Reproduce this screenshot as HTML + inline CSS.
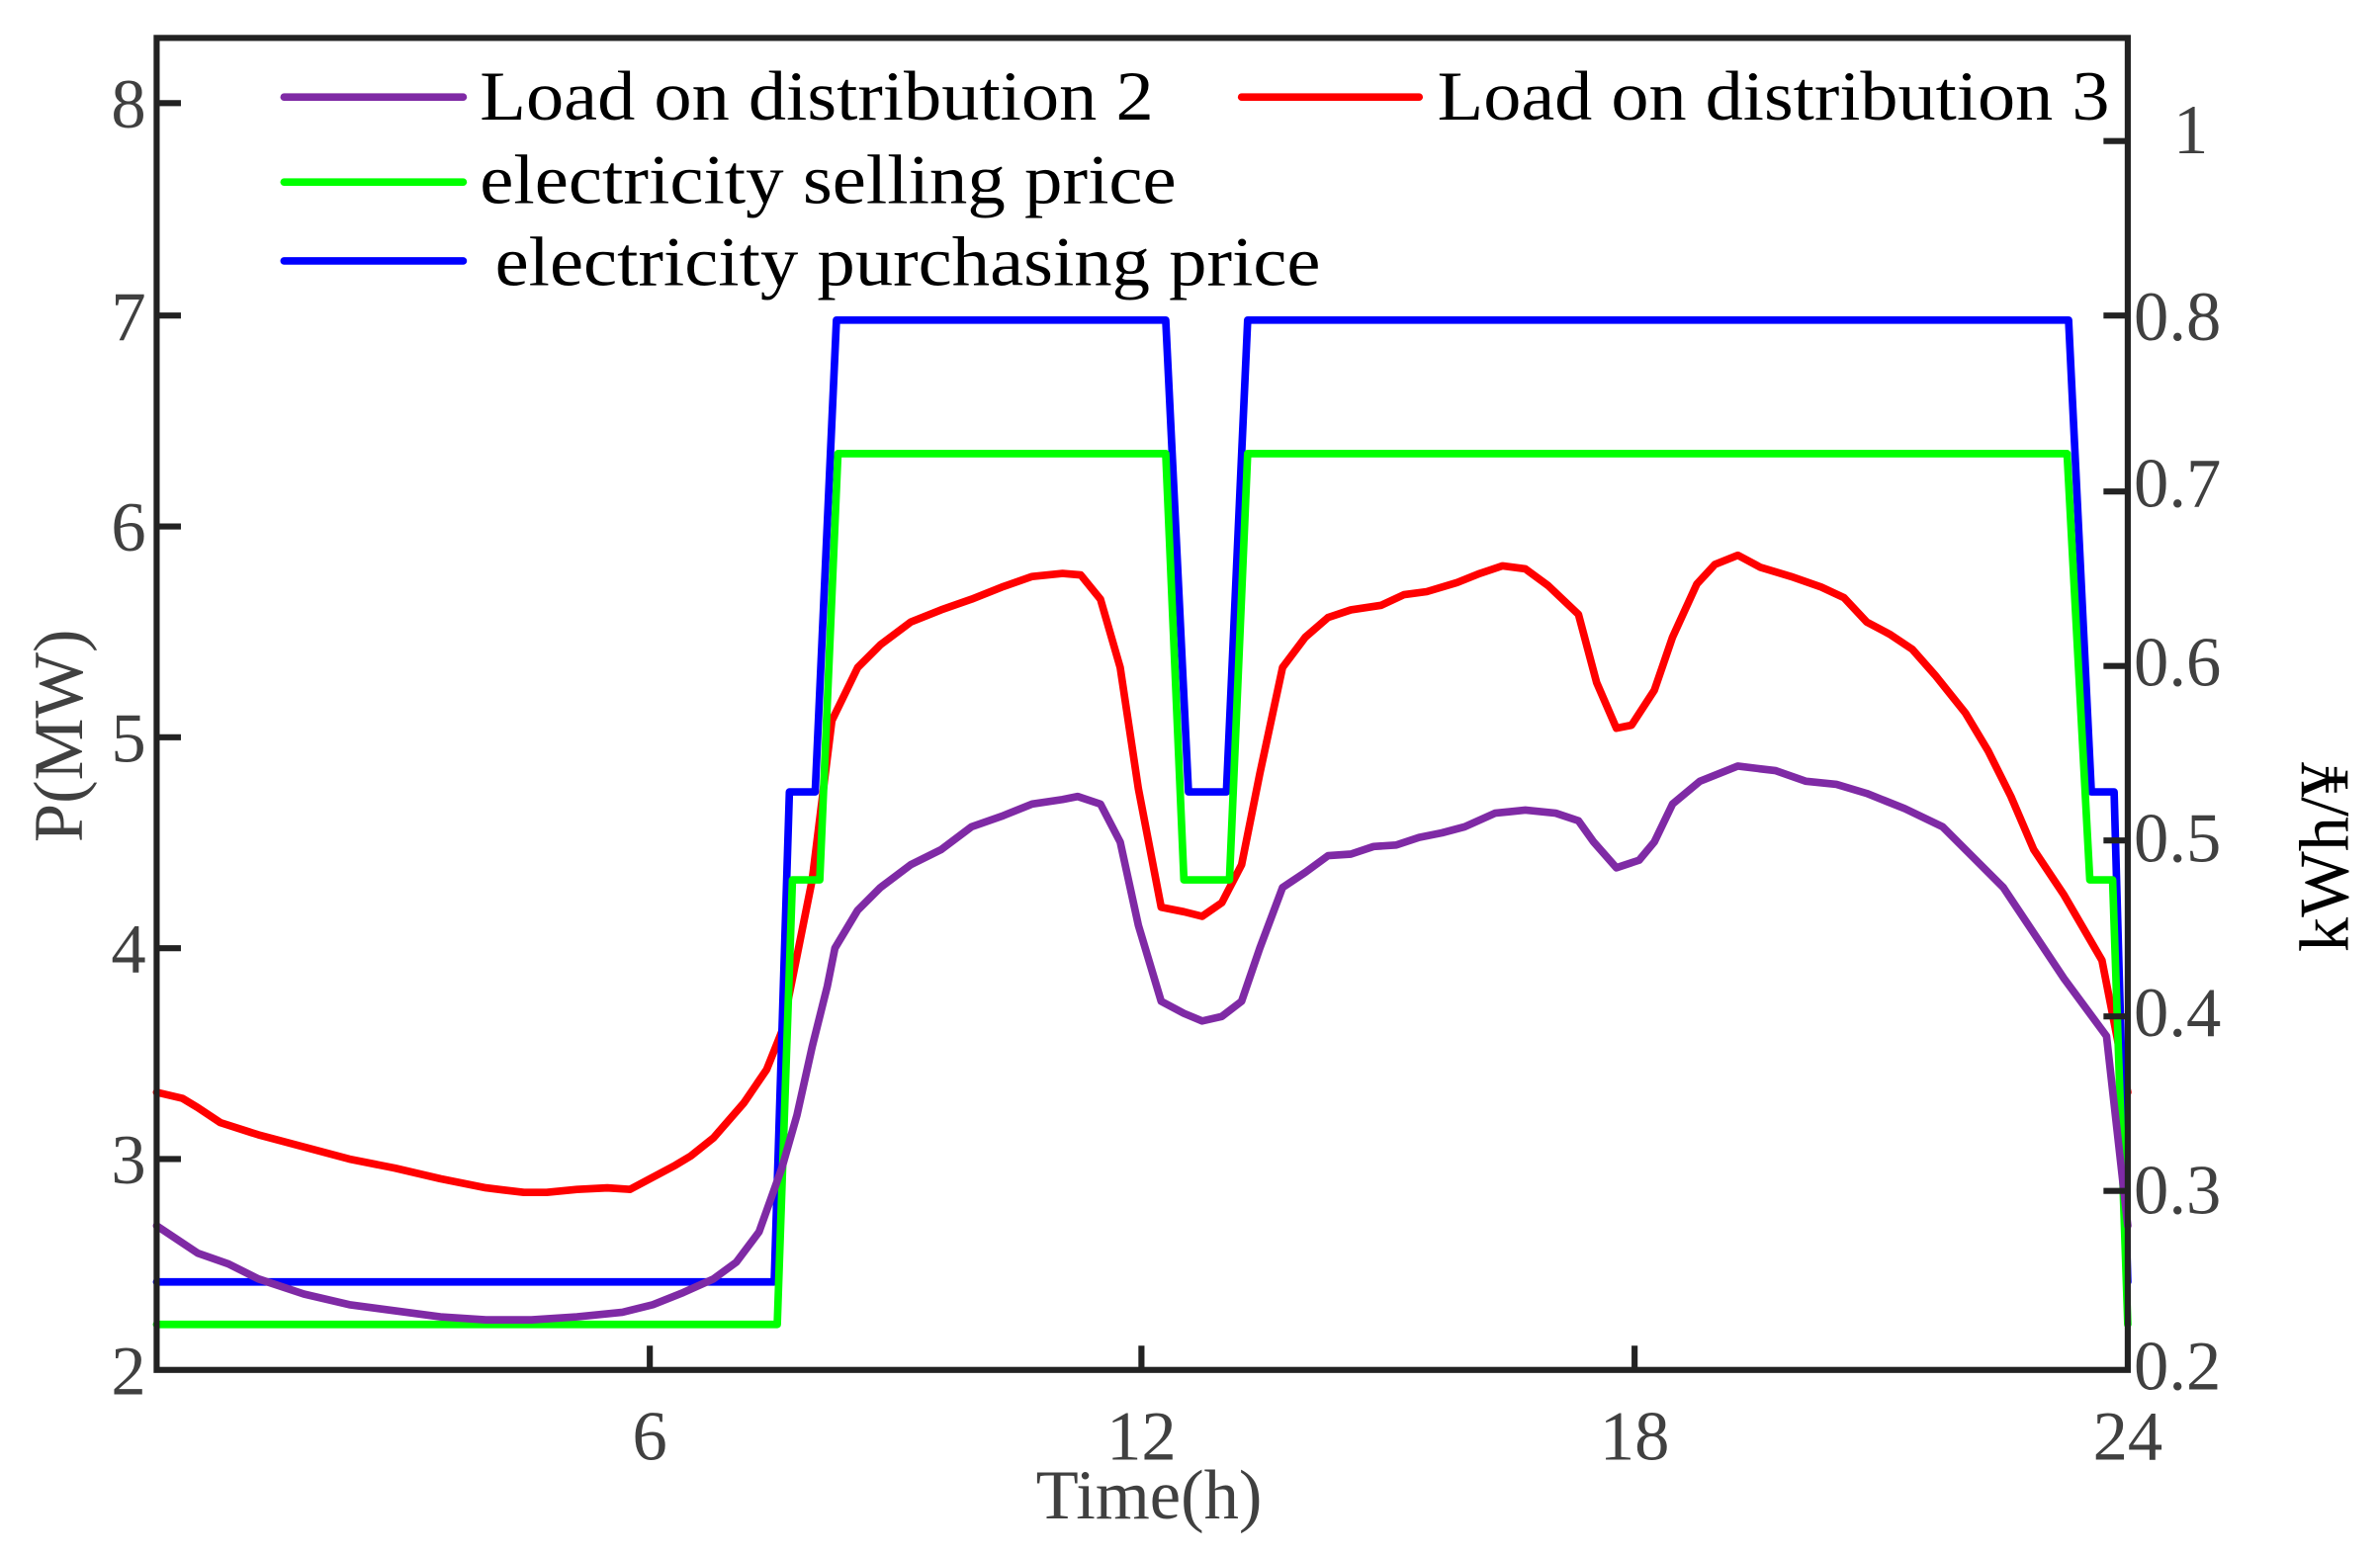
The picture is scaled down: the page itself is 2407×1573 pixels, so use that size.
<!DOCTYPE html>
<html><head><meta charset="utf-8"><style>html,body{margin:0;padding:0;background:#fff}svg{display:block}</style></head>
<body>
<svg width="2407" height="1573" viewBox="0 0 1568 1025" xmlns="http://www.w3.org/2000/svg" font-family="Liberation Serif, serif">
<rect width="1568" height="1025" fill="#fff"/>
<g fill="none" stroke-linejoin="round" stroke-linecap="round" stroke-width="5">
<polyline stroke="#ff0000" points="103,720 120,724 130,730 145,740 170,748 200,756 230,764 260,770 290,777 320,783 345,786 360,786 380,784 400,783 415,784 430,776 445,768 455,762 470,750 490,727 505,705 515,680 525,630 535,580 548,475 565,440 580,425 600,410 620,402 640,395 660,387 680,380 700,378 712,379 725,395 738,440 750,520 765,598 780,601 792,604 805,595 818,570 830,510 845,440 860,420 875,407 890,402 910,399 925,392 940,390 960,384 975,378 990,373 1005,375 1020,386 1040,405 1052,450 1065,480 1075,478 1090,455 1102,420 1118,385 1130,372 1145,366 1160,374 1180,380 1200,387 1215,394 1230,410 1245,418 1260,428 1275,445 1295,470 1310,495 1325,525 1340,560 1360,590 1385,633 1402,720"/>
<polyline stroke="#0000ff" points="103,845 510,845 520,522 537,522 551,211 768,211 783,522 808,522 822,211 1363,211 1378,522 1393,522 1402,845"/>
<polyline stroke="#00ff00" points="103,873 512,873 522,580 540,580 552,299 768,299 780,580 810,580 822,299 1362,299 1377,580 1392,580 1402,873"/>
<polyline stroke="#7f2aa5" points="103,808 130,826 150,833 170,843 200,853 230,860 260,864 290,868 320,870 350,870 380,868 410,865 430,860 450,852 470,843 485,832 500,812 515,770 525,735 535,690 545,650 550,625 565,600 580,585 600,570 620,560 640,545 660,538 680,530 700,527 710,525 725,530 738,555 750,610 765,660 780,668 792,673 805,670 818,660 830,625 845,585 860,575 875,564 890,563 905,558 920,557 935,552 950,549 965,545 985,536 1005,534 1025,536 1040,541 1050,555 1065,572 1080,567 1090,555 1102,530 1120,515 1145,505 1170,508 1190,515 1210,517 1230,523 1255,533 1280,545 1300,565 1320,585 1340,615 1360,645 1388,683 1402,808"/>
</g>
<g stroke="#222" stroke-width="4" fill="none">
<rect x="103" y="25" width="1299" height="878"/>
<path d="M103,68h16M103,208h16M103,347h16M103,486h16M103,625h16M103,764h16"/>
<path d="M1402,93h-16M1402,208h-16M1402,324h-16M1402,439h-16M1402,554h-16M1402,670h-16M1402,785h-16"/>
<path d="M428,903v-16M752,903v-16M1077,903v-16"/>
</g>
<g fill="#404040" font-size="46">
<g text-anchor="end">
<text x="96" y="84">8</text><text x="96" y="224">7</text><text x="96" y="363">6</text><text x="96" y="502">5</text><text x="96" y="641">4</text><text x="96" y="780">3</text><text x="96" y="919">2</text>
</g>
<text x="1432" y="101">1</text><text x="1406" y="224">0.8</text><text x="1406" y="334">0.7</text><text x="1406" y="452">0.6</text><text x="1406" y="568">0.5</text><text x="1406" y="683">0.4</text><text x="1406" y="800">0.3</text><text x="1406" y="916">0.2</text>
<g text-anchor="middle">
<text x="428" y="962">6</text><text x="752" y="962">12</text><text x="1077" y="962">18</text><text x="1402" y="962">24</text>
<text x="757" y="1001">Time(h)</text>
<text transform="translate(54,485) rotate(-90)">P(MW)</text>
</g>
</g>
<text transform="translate(1547,565) rotate(-90)" text-anchor="middle" font-size="46" fill="#000">kWh/¥</text>
<g stroke-width="5" stroke-linecap="round">
<line x1="187" y1="64" x2="305" y2="64" stroke="#7f2aa5"/>
<line x1="818" y1="64" x2="935" y2="64" stroke="#ff0000"/>
<line x1="187" y1="120" x2="305" y2="120" stroke="#00ff00"/>
<line x1="187" y1="172" x2="305" y2="172" stroke="#0000ff"/>
</g>
<g font-size="46" fill="#000">
<text x="316" y="79" textLength="444" lengthAdjust="spacingAndGlyphs">Load on distribution 2</text>
<text x="947" y="79" textLength="443" lengthAdjust="spacingAndGlyphs">Load on distribution 3</text>
<text x="316" y="134" textLength="459" lengthAdjust="spacingAndGlyphs">electricity selling price</text>
<text x="326" y="188" textLength="544" lengthAdjust="spacingAndGlyphs">electricity purchasing price</text>
</g>
</svg>
</body></html>
